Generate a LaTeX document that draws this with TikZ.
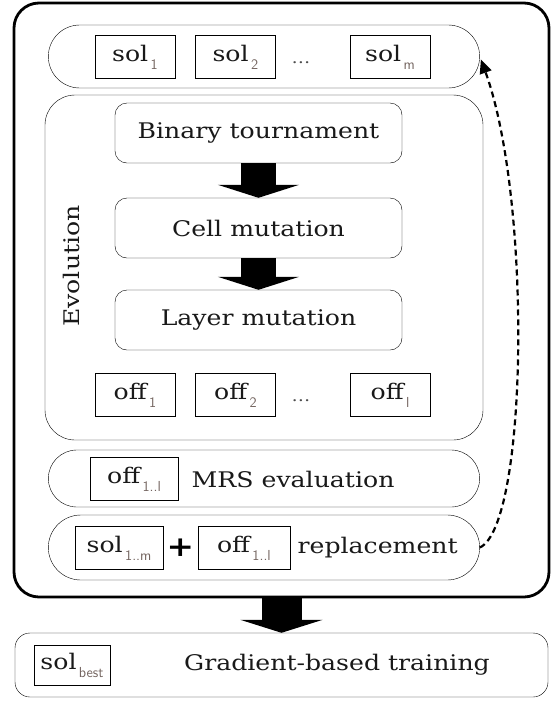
\documentclass[tikz,border=0pt]{standalone}
\usepackage{fontspec}
\setmainfont[FakeStretch=1.17]{DejaVu Serif}
\usepackage{xcolor}
\usetikzlibrary{positioning, arrows.meta, shapes.misc}
\definecolor{subgray}{RGB}{115,100,95}
\newcommand{\idx}[2]{#1\raisebox{-0.7ex}{\fontsize{14.5}{14}\sffamily\selectfont\color{subgray}\,#2}}
\tikzset{
  frame/.style={draw, line width=2.8pt, rounded corners=25pt},
  pill/.style={draw, thin, rounded rectangle, minimum width=438pt},
  stage/.style={draw, thin, rectangle, rounded corners=12pt, minimum width=287pt, minimum height=60pt},
  item/.style={draw, thin, rectangle, minimum width=80pt, minimum height=43pt, inner sep=2pt},
  dots/.style={text=black!70, font=\fontsize{16}{16}\selectfont},
  fat/.style={line width=35pt, -{Triangle[length=13pt, width=81pt]}},
  bigfat/.style={line width=40pt, -{Triangle[length=13pt, width=82pt]}},
  every node/.style={font=\fontsize{21.5}{24}\selectfont, text=black!90}
}
\begin{document}
\begin{tikzpicture}[x=1pt, y=-1pt]
    \useasboundingbox (0,0) rectangle (557,705);
    % outer loop and final stage
    \node (outer) [frame, minimum width=535pt, minimum height=594pt] at (281.5,300) {};
    \node (train) [draw, thin, rounded corners=15pt, minimum width=533pt, minimum height=64pt] at (281.5,665) {};

    % population
    \node (pop) [pill, minimum height=63pt] at (264,56.5) {};
    \node (sol1) [item] at (135,57) {\idx{sol}{1}};
    \node (sol2) [item, right=20pt of sol1] {\idx{sol}{2}};
    \node (sold) [dots] at (301,63) {\dots};
    \node (solm) [item] at (390,57) {\idx{sol}{m}};

    % evolution block
    \node (evo) [draw, thin, rounded corners=30pt, minimum width=438pt, minimum height=345pt] at (264,267.5) {};
    \node (evlab) [rotate=90] at (71,266) {Evolution};
    \node (bt) [stage] at (258.5,133) {Binary tournament};
    \node (cm) [stage] at (258.5,228) {Cell mutation};
    \node (lm) [stage] at (258.5,320) {Layer mutation};
    \node (off1) [item] at (135,395) {\idx{off}{1}};
    \node (off2) [item, right=20pt of off1] {\idx{off}{2}};
    \node (offd) [dots] at (301,401) {\dots};
    \node (offl) [item] at (390,395) {\idx{off}{l}};

    \draw [fat] (bt) -- (cm);
    \draw [fat] (cm) -- (lm);

    % evaluation
    \node (mrs) [pill, minimum height=57pt] at (264,478.5) {};
    \node (offe) [item, minimum width=88pt] at (134,479) {\idx{off}{1..l}};
    \node (mrst) [right=10pt of offe] {MRS evaluation};

    % replacement
    \node (rep) [pill, minimum height=65pt] at (264,547.5) {};
    \node (solr) [item, minimum width=88pt] at (119,548) {\idx{sol}{1..m}};
    \node (plus) [right=0pt of solr, font=\fontsize{28}{28}\selectfont\bfseries, text=black] {+};
    \node (offr) [item, minimum width=92pt, right=0pt of plus] {\idx{off}{1..l}};
    \node (rept) [right=4pt of offr] {replacement};

    % final training
    \node (best) [item, minimum width=76pt, minimum height=40pt] at (72,665) {\idx{sol}{best}};
    \node (bestt) at (337,665) {Gradient-based training};

    \draw [bigfat] (outer) -- (train);
    \draw [line width=2.2pt, dash pattern=on 6pt off 4pt, -{Triangle[length=14pt, width=12pt]}, shorten >=3pt]
        (rep.east) .. controls (528,525) and (532,200) .. (pop.east);
\end{tikzpicture}
\end{document}
